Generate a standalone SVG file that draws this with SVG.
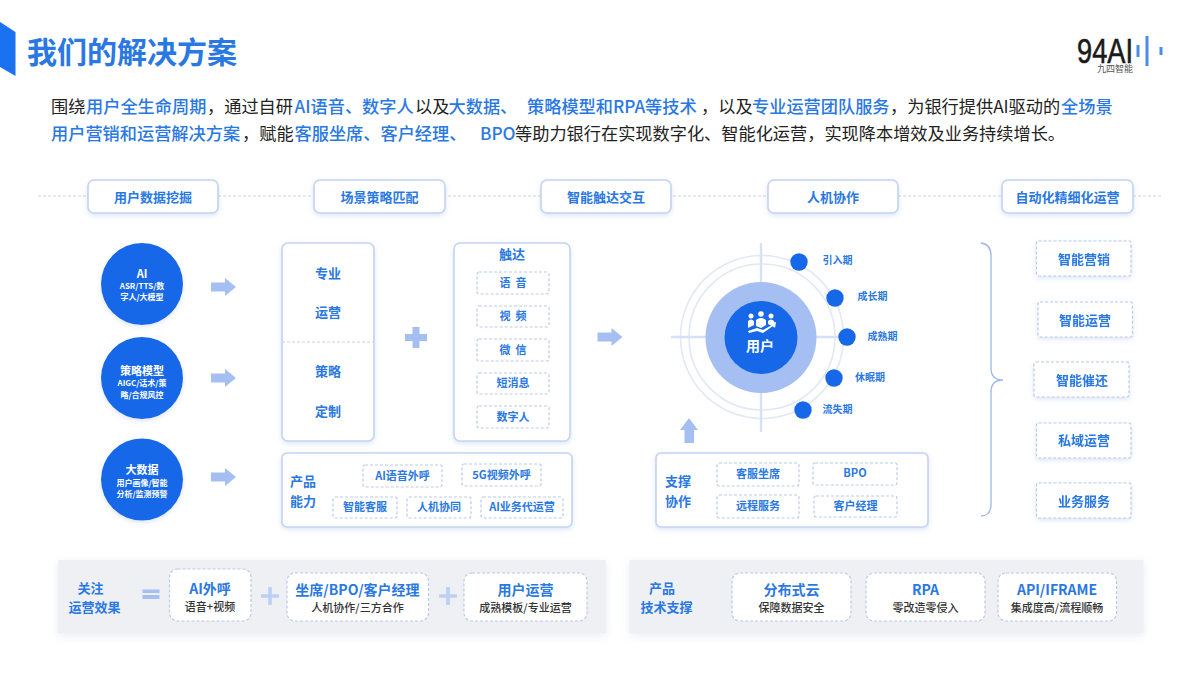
<svg xmlns="http://www.w3.org/2000/svg" width="1199" height="675" viewBox="0 0 1199 675">
<defs>
<filter id="sh" x="-20%" y="-30%" width="140%" height="170%"><feDropShadow dx="0" dy="2" stdDeviation="2.5" flood-color="#9db8ea" flood-opacity=".35"/></filter>
<filter id="ps" x="-5%" y="-20%" width="110%" height="150%"><feDropShadow dx="0" dy="3" stdDeviation="4" flood-color="#b8c4dc" flood-opacity=".3"/></filter>
<path id="ar" d="M0,-4.500H14V-9L25,0L14,9V4.500H0Z"/>
<path id="plus" d="M-3.500,-10.500H3.500V-3.500H11V3.500H3.500V10.500H-3.500V3.500H-11V-3.500H-3.500Z"/>
<path id="plus2" d="M-1.800,-9H1.800V-1.800H9V1.800H1.800V9H-1.800V1.800H-9V-1.800H-1.800Z"/>
</defs>
<style>
text{font-family:"Noto Sans CJK SC","Liberation Sans",sans-serif;dominant-baseline:central;text-anchor:middle;transform:translateY(-1.500px)}
.b{fill:#2a78e2;font-weight:700}
.t13{font-size:13px}.t12{font-size:11px}.t10{font-size:10px}
.t14{font-size:14px}
.w{fill:#fff;font-weight:700}
.s{fill:#333;font-size:11px;font-weight:500}
.m{font-size:14px}
.pipe{fill:#fff;stroke:#c3d3f1;stroke-width:1.6;filter:url(#sh)}
.card{fill:#fff;stroke:#c3d3f1;stroke-width:1.6;filter:url(#sh)}
.dash{fill:#fff;stroke:#bccae6;stroke-width:1.2;stroke-dasharray:3 2}
.rb{filter:url(#sh)}
.bc{fill:#1668e8}
.ar{fill:#a6bff3}
.lead{text-anchor:start;font-size:17.2px;fill:#222;font-weight:400}
.lead .h{fill:#2a78e2;font-weight:500}
.panel{fill:#eef0f4;filter:url(#ps)}
</style>
<rect width="1199" height="675" fill="#fff"/>

<g id="header">
<path d="M0,22L15.500,32V76L0,67Z" fill="#1a72f0"/>
<text x="27" y="51" style="text-anchor:start;font-size:30px;font-weight:700" fill="#2a78e2">我们的解决方案</text>
</g>
<g id="logo">
<text x="1077" y="52" style="font-family:'Liberation Sans',sans-serif;font-size:35px;text-anchor:start" fill="#1a1a1a" stroke="#1a1a1a" stroke-width=".6" textLength="56" lengthAdjust="spacingAndGlyphs">94AI</text>
<text x="1115" y="70" style="font-size:9px" fill="#555">九四智能</text>
<path d="M1138,45V57M1147,36V66M1161,47V55" stroke="#4a8ce8" stroke-width="3" fill="none"/>
</g>
<g id="intro">
<text class="lead" y="106.500"><tspan x="51">围绕</tspan><tspan class="h" x="86">用户全生命周期</tspan><tspan x="207">，通过自研</tspan><tspan class="h" x="294.500">AI语音、数字人</tspan><tspan x="415">以及</tspan><tspan class="h" x="448.500">大数据、</tspan><tspan class="h" x="527">策略模型和RPA等技术</tspan><tspan x="701">，以及</tspan><tspan class="h" x="752">专业运营团队服务</tspan><tspan x="890">，为银行提供AI驱动的</tspan><tspan class="h" x="1061">全场景</tspan></text>
<text class="lead" y="133"><tspan class="h" x="51">用户营销和运营解决方案</tspan><tspan x="242">，赋能</tspan><tspan class="h" x="294.500">客服坐席、客户经理、</tspan><tspan class="h" x="480">BPO</tspan><tspan x="515">等助力银行在实现数字化、智能化运营，实现降本增效及业务持续增长。</tspan></text>
</g>

<g id="connectors">
<path d="M38,196H1162" stroke="#c9d3e6" stroke-width="1.2" stroke-dasharray="3 2" fill="none"/>
<use href="#ar" x="211" y="287" class="ar"/>
<use href="#ar" x="211" y="378" class="ar"/>
<use href="#ar" x="211" y="477" class="ar"/>
<use href="#ar" x="597.500" y="337" class="ar"/>
<path class="ar" d="M684.500,443V430H680L689,418L698,430H694V443Z"/>
<path d="M981,243Q991,244 991,256V368Q991,380 1003,380Q991,380 991,392V504Q991,516 981,516" fill="none" stroke="#9db8e8" stroke-width="1.3"/>
<use href="#plus" x="416" y="337.500" class="ar"/>
</g>

<g id="stage-1"><rect class="pipe" x="88" y="180" width="130" height="33" rx="6"/><text class="b t13" x="153" y="198">用户数据挖掘</text></g>
<g id="stage-2"><rect class="pipe" x="314" y="180" width="131" height="33" rx="6"/><text class="b t13" x="379.500" y="198">场景策略匹配</text></g>
<g id="stage-3"><rect class="pipe" x="541" y="180" width="130" height="33" rx="6"/><text class="b t13" x="606" y="198">智能触达交互</text></g>
<g id="stage-4"><rect class="pipe" x="768" y="180" width="130" height="33" rx="6"/><text class="b t13" x="833" y="198">人机协作</text></g>
<g id="stage-5"><rect class="pipe" x="1002" y="180" width="131" height="33" rx="6"/><text class="b t13" x="1067.500" y="198">自动化精细化运营</text></g>

<g id="tech-ai"><circle class="bc" cx="142" cy="284" r="41" filter="url(#sh)"/><text class="w t12" x="142" y="274">AI</text><text class="w" style="font-size:8px" x="142" y="287">ASR/TTS/数</text><text class="w" style="font-size:8px" x="142" y="298">字人/大模型</text></g>
<g id="tech-strategy"><circle class="bc" cx="142" cy="378" r="41" filter="url(#sh)"/><text class="w t12" x="142" y="371">策略模型</text><text class="w" style="font-size:8px" x="142" y="384">AIGC/话术/策</text><text class="w" style="font-size:8px" x="142" y="396">略/合规风控</text></g>
<g id="tech-data"><circle class="bc" cx="142" cy="479.500" r="41" filter="url(#sh)"/><text class="w t12" x="142" y="470">大数据</text><text class="w" style="font-size:8px" x="142" y="484">用户画像/智能</text><text class="w" style="font-size:8px" x="142" y="495">分析/监测预警</text></g>

<g id="ops-strategy"><rect class="card" x="282" y="243" width="92" height="198" rx="6"/><path d="M282,342H374" stroke="#c3d3f1" stroke-width="1.2" stroke-dasharray="3 2"/>
<text class="b t13" x="328" y="274">专业</text><text class="b t13" x="328" y="313">运营</text><text class="b t13" x="328" y="372">策略</text><text class="b t13" x="328" y="412">定制</text></g>

<g id="reach"><rect class="card" x="454" y="243" width="116" height="198" rx="6"/><text class="b t13" x="512" y="255">触达</text>
<rect class="dash" x="477" y="272" width="72" height="22" rx="2"/><text class="b t12" x="513" y="283" word-spacing="2.500">语 音</text>
<rect class="dash" x="477" y="306" width="72" height="21" rx="2"/><text class="b t12" x="513" y="316.500" word-spacing="2.500">视 频</text>
<rect class="dash" x="477" y="339" width="72" height="22" rx="2"/><text class="b t12" x="513" y="350" word-spacing="2.500">微 信</text>
<rect class="dash" x="477" y="373" width="72" height="21" rx="2"/><text class="b t12" x="513" y="383.500">短消息</text>
<rect class="dash" x="477" y="406" width="72" height="22" rx="2"/><text class="b t12" x="513" y="417">数字人</text></g>

<g id="product"><rect class="card" x="282" y="453" width="290" height="74" rx="5"/><text class="b t13" x="303" y="482">产品</text><text class="b t13" x="303" y="502">能力</text>
<rect class="dash" x="363" y="465" width="79" height="22" rx="2"/><text class="b t12" x="402.500" y="476">AI语音外呼</text>
<rect class="dash" x="462" y="464" width="79" height="22" rx="2"/><text class="b t12" x="501.500" y="475">5G视频外呼</text>
<rect class="dash" x="333" y="497" width="64" height="21" rx="2"/><text class="b t12" x="365" y="507.500">智能客服</text>
<rect class="dash" x="407" y="497" width="64" height="21" rx="2"/><text class="b t12" x="439" y="507.500">人机协同</text>
<rect class="dash" x="481" y="497" width="82" height="21" rx="2"/><text class="b t12" x="522" y="507.500">AI业务代运营</text></g>

<g id="user-core">
<circle cx="762" cy="337" r="81.500" fill="none" stroke="#e1e8f6" stroke-width="1.6"/>
<circle cx="762" cy="337" r="73" fill="none" stroke="#e1e8f6" stroke-width="1.6"/>
<path d="M761,243V432M671,337H845" stroke="#d6e1f7" stroke-width="2.400" fill="none"/>
<circle cx="761" cy="337.500" r="55.500" fill="#a6bff3"/>
<circle cx="761" cy="337.500" r="36.500" fill="#1668e8"/>
<g fill="#fff"><circle cx="751" cy="316" r="2.500"/><circle cx="761" cy="314" r="2.800"/><circle cx="771" cy="316" r="2.500"/><path d="M748,328V321Q751,318 754,321V325ZM756,326V320Q761,316 766,320V325L761,328ZM768,324V321Q771,318 774,321V327Z"/><path d="M748,331L757,328L763,330L772,325L770,323L776,322L775,328L773,326L763,333L757,331L749,333Z"/></g>
<text class="w t14" x="760" y="346">用户</text>
</g>
<g id="stage-intro"><circle class="bc" cx="799" cy="262" r="8.700"/><text class="b t10" x="837.500" y="261">引入期</text></g>
<g id="stage-growth"><circle class="bc" cx="835" cy="298" r="8.700"/><text class="b t10" x="872.500" y="297">成长期</text></g>
<g id="stage-mature"><circle class="bc" cx="847" cy="337" r="8.700"/><text class="b t10" x="882.500" y="337">成熟期</text></g>
<g id="stage-dormant"><circle class="bc" cx="834" cy="378" r="8.700"/><text class="b t10" x="870" y="378">休眠期</text></g>
<g id="stage-churn"><circle class="bc" cx="803" cy="410" r="8.700"/><text class="b t10" x="837.500" y="410">流失期</text></g>

<g id="support"><rect class="card" x="656" y="453" width="272" height="74" rx="5"/><text class="b t13" x="678" y="482">支撑</text><text class="b t13" x="678" y="502">协作</text>
<rect class="dash" x="717" y="463" width="82" height="23" rx="2"/><text class="b t12" x="758" y="474">客服坐席</text>
<rect class="dash" x="813" y="463" width="84" height="22" rx="2"/><text class="b t12" x="855" y="473">BPO</text>
<rect class="dash" x="717" y="495" width="82" height="23" rx="2"/><text class="b t12" x="758" y="506">远程服务</text>
<rect class="dash" x="814" y="496" width="83" height="21" rx="2"/><text class="b t12" x="855.500" y="506">客户经理</text></g>

<g id="out-1" class="rb"><rect class="dash" x="1036.500" y="241" width="94.500" height="35" rx="2"/><text class="b t13" x="1084" y="260">智能营销</text></g>
<g id="out-2" class="rb"><rect class="dash" x="1038" y="302" width="94.500" height="35" rx="2"/><text class="b t13" x="1085" y="321">智能运营</text></g>
<g id="out-3" class="rb"><rect class="dash" x="1034" y="362" width="95" height="35" rx="2"/><text class="b t13" x="1082" y="381">智能催还</text></g>
<g id="out-4" class="rb"><rect class="dash" x="1036.500" y="423" width="94.500" height="35" rx="2"/><text class="b t13" x="1084" y="441">私域运营</text></g>
<g id="out-5" class="rb"><rect class="dash" x="1036.500" y="483" width="94.500" height="35" rx="2"/><text class="b t13" x="1084" y="502">业务服务</text></g>

<g id="panel-ops"><rect class="panel" x="58" y="560" width="548" height="73"/>
<text class="b t13" x="90.500" y="589">关注</text><text class="b t13" x="94.500" y="608">运营效果</text>
<path d="M142.500,589.500H159.500V593H142.500ZM142.500,595H159.500V599H142.500Z" fill="#a6bff3"/>
<use href="#plus2" x="270" y="596" fill="#bccff5"/>
<use href="#plus2" x="448" y="596" fill="#bccff5"/>
<rect class="dash" x="169.500" y="569" width="81.500" height="52" rx="8"/><text class="b m" x="210" y="589">AI外呼</text><text class="s" x="210" y="607">语音+视频</text>
<rect class="dash" x="287" y="573" width="141.500" height="48" rx="8"/><text class="b m" x="357.500" y="590">坐席/BPO/客户经理</text><text class="s" x="357.500" y="608">人机协作/三方合作</text>
<rect class="dash" x="464" y="573" width="123" height="48" rx="8"/><text class="b m" x="525.500" y="590">用户运营</text><text class="s" x="525.500" y="608">成熟模板/专业运营</text></g>

<g id="panel-tech"><rect class="panel" x="629.500" y="560" width="514" height="73"/>
<text class="b t13" x="662" y="589">产品</text><text class="b t13" x="666.500" y="608">技术支撑</text>
<rect class="dash" x="732" y="573" width="119" height="48" rx="8"/><text class="b m" x="791.500" y="590">分布式云</text><text class="s" x="791.500" y="608">保障数据安全</text>
<rect class="dash" x="866" y="573" width="119" height="48" rx="8"/><text class="b m" x="925.500" y="590">RPA</text><text class="s" x="925.500" y="608">零改造零侵入</text>
<rect class="dash" x="998" y="573" width="118.500" height="48" rx="8"/><text class="b m" x="1057" y="590">API/IFRAME</text><text class="s" x="1057" y="608">集成度高/流程顺畅</text></g>
</svg>
